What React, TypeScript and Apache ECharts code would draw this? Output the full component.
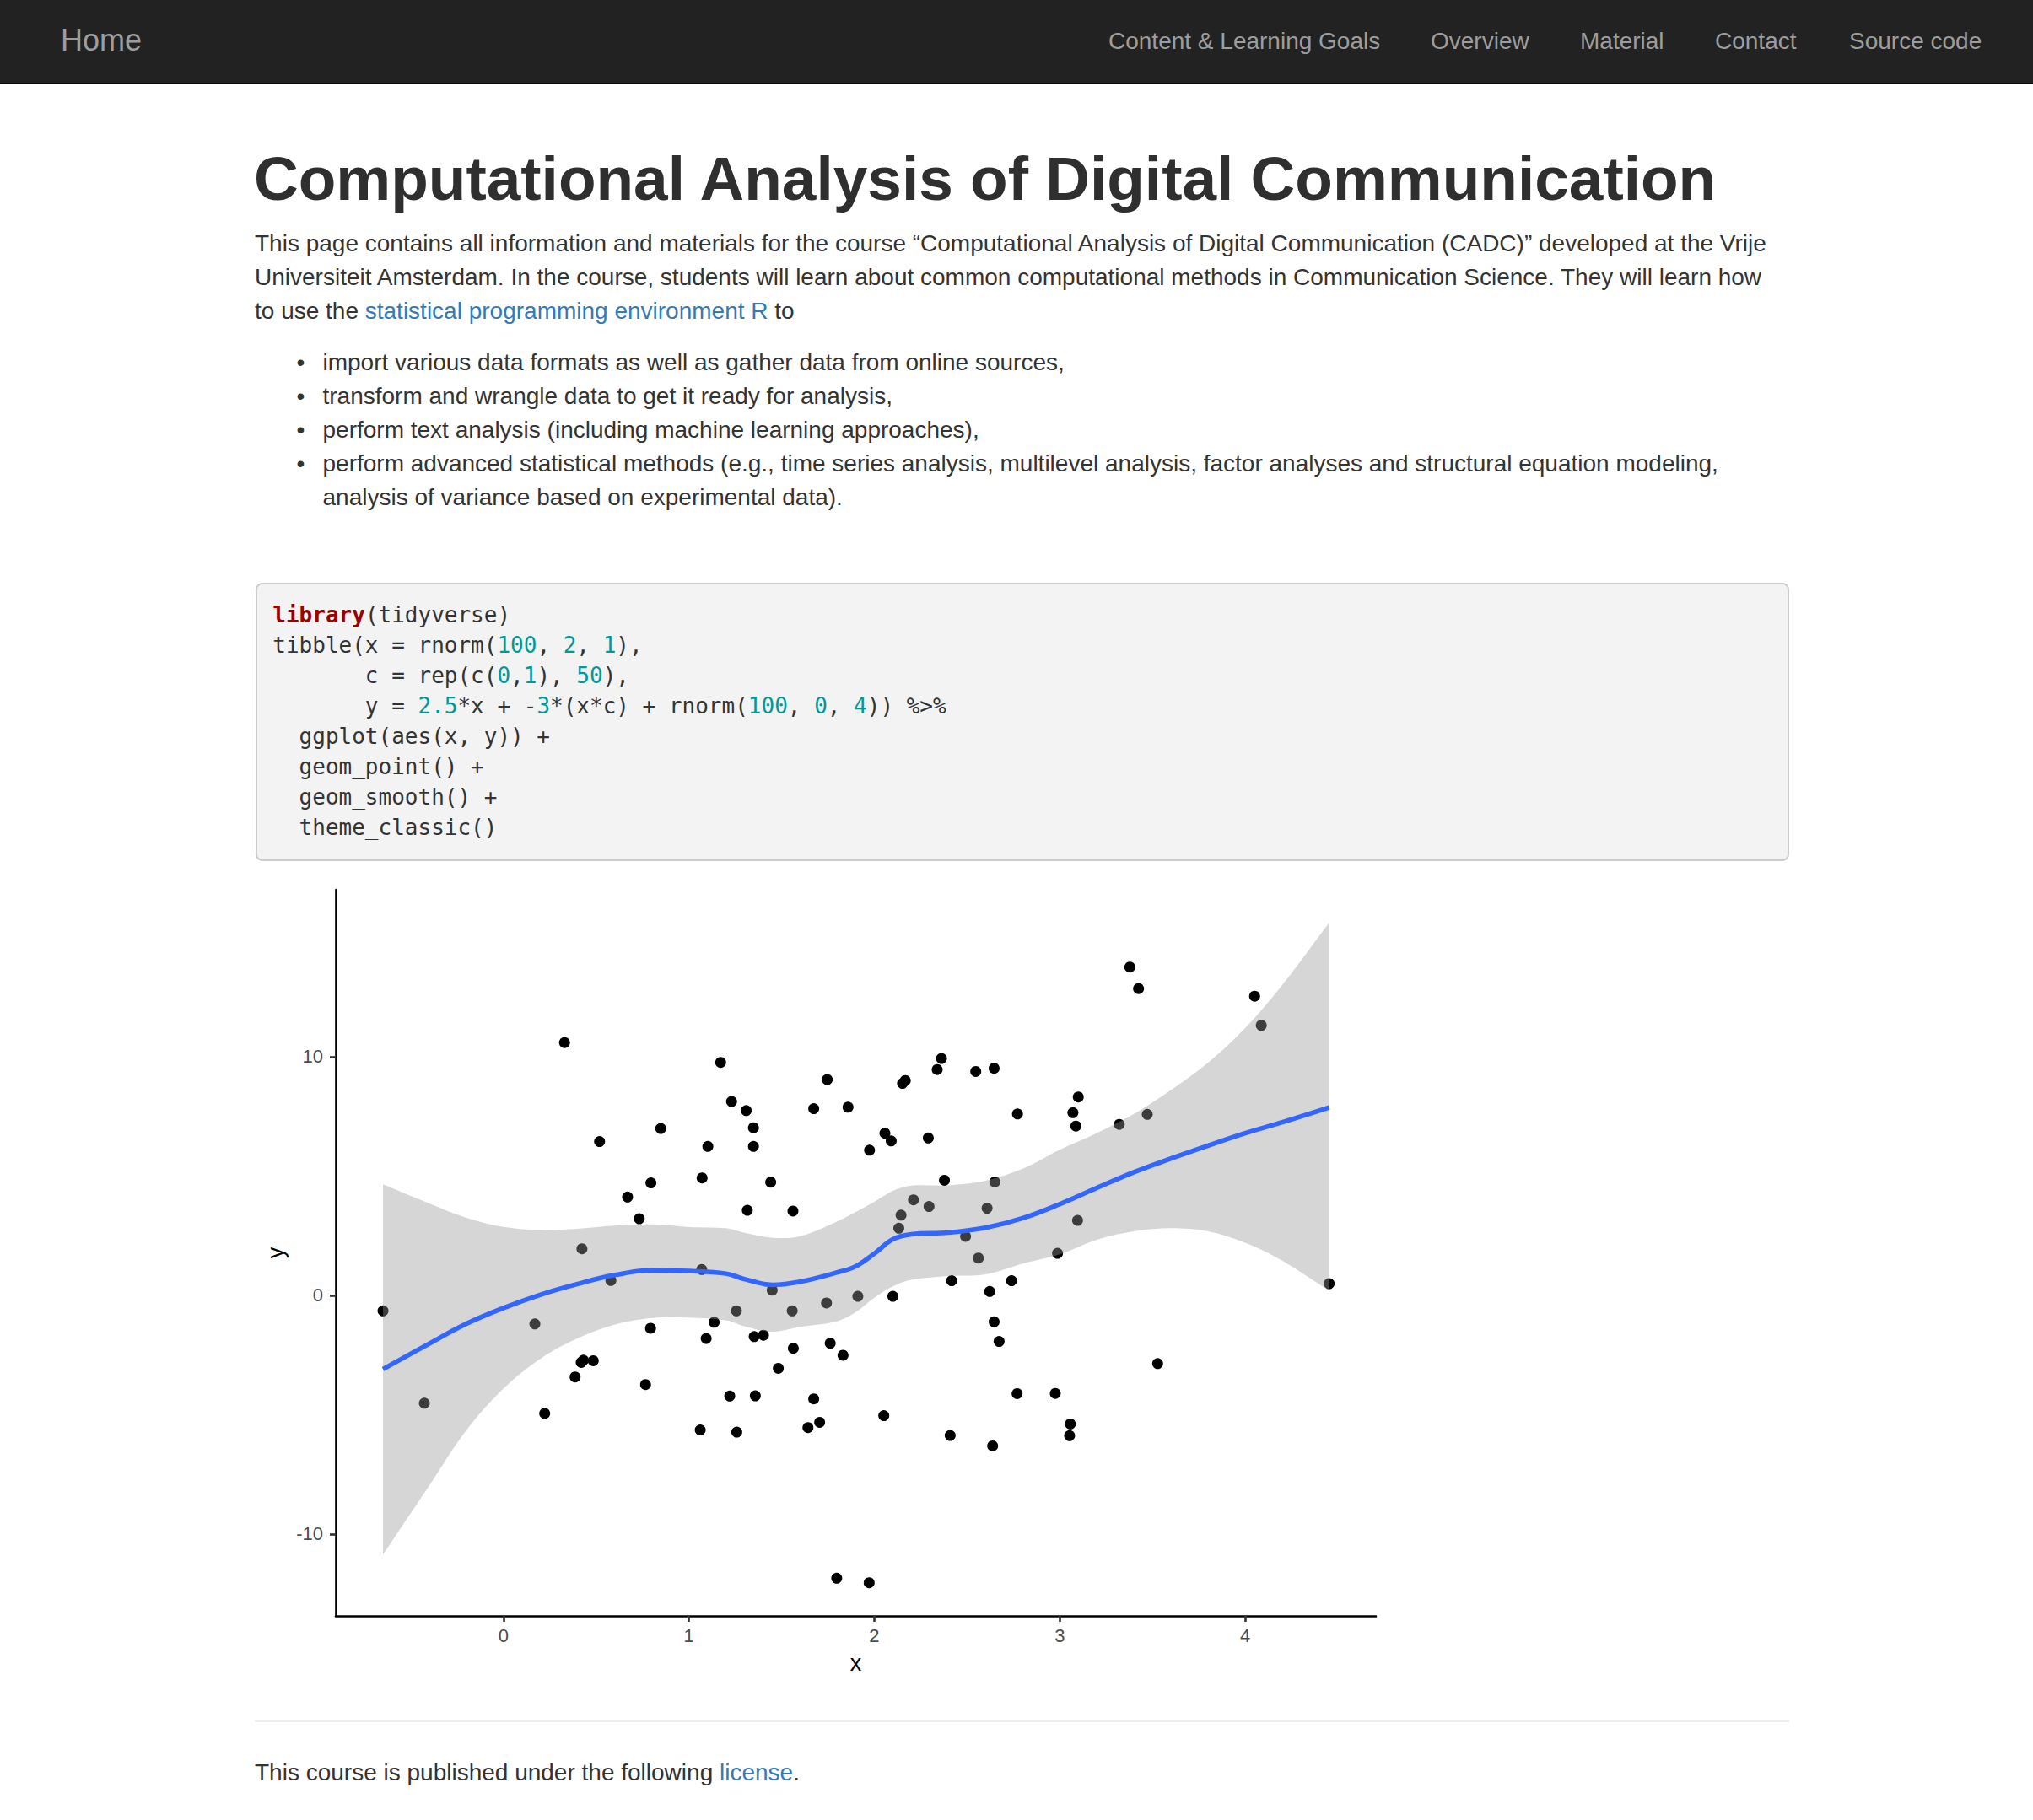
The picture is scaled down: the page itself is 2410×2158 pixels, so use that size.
import React, { useEffect, useRef } from "react";
import * as echarts from "echarts";

// ---------- chart data ----------
const pointX = [-0.650,-0.427,0.169,0.222,0.329,0.386,0.419,0.431,0.423,0.484,0.518,0.579,0.669,0.732,0.766,0.793,0.795,0.848,1.061,1.069,1.071,1.093,1.102,1.136,1.171,1.220,1.230,1.256,1.258,1.309,1.315,1.348,1.348,1.352,1.358,1.402,1.441,1.449,1.482,1.557,1.561,1.563,1.642,1.673,1.673,1.705,1.742,1.746,1.762,1.797,1.831,1.858,1.911,1.972,1.974,2.051,2.057,2.091,2.100,2.132,2.144,2.152,2.167,2.211,2.291,2.295,2.339,2.362,2.378,2.409,2.417,2.492,2.547,2.561,2.608,2.622,2.638,2.646,2.646,2.650,2.673,2.740,2.770,2.772,2.976,2.988,3.053,3.057,3.071,3.087,3.096,3.100,3.321,3.378,3.425,3.472,3.528,4.051,4.087,4.453];
const pointY = [-0.65,-4.52,-1.20,-4.95,10.59,-3.42,-2.81,-2.72,1.95,-2.74,6.44,0.62,4.12,3.21,-3.74,-1.38,4.71,6.99,-5.64,1.08,4.92,-1.81,6.24,-1.13,9.76,-4.22,8.12,-0.65,-5.73,7.74,3.56,7.02,6.24,-1.73,-4.21,-1.67,4.74,0.22,-3.06,-0.65,3.53,-2.22,-5.54,7.82,-4.34,-5.32,-0.32,9.04,-2.01,-11.85,-2.51,7.88,-0.04,-12.04,6.08,-5.04,6.79,6.47,-0.04,2.81,3.36,8.88,9.00,4.00,6.59,3.72,9.46,9.92,4.82,-5.87,0.61,2.47,9.38,1.56,3.65,0.16,-6.31,9.51,-1.11,4.75,-1.93,0.61,-4.12,7.60,-4.11,1.76,-5.88,-5.39,7.65,7.09,3.14,8.31,7.16,13.75,12.85,7.58,-2.86,12.53,11.31,0.49];

const smoothX = [-0.65,-0.4,-0.2,0,0.2,0.4,0.6,0.8,1.0,1.2,1.3,1.45,1.6,1.8,1.9,2.0,2.1,2.2,2.4,2.6,2.8,3.0,3.2,3.4,3.6,3.8,4.0,4.2,4.453];
const fitY = [-3.09,-2.02,-1.19,-0.53,0.03,0.48,0.85,1.05,1.02,0.91,0.68,0.44,0.57,0.96,1.22,1.75,2.35,2.56,2.63,2.83,3.23,3.82,4.5,5.16,5.73,6.27,6.79,7.25,7.87];
const ribbonHigh = [4.65,3.85,3.25,2.87,2.74,2.79,2.92,2.97,2.86,2.81,2.62,2.41,2.48,3.1,3.49,3.92,4.38,4.6,4.61,4.8,5.3,6.1,6.8,7.6,8.6,9.75,11.2,13.0,15.61];
const ribbonLow = [-10.86,-7.96,-5.65,-3.9,-2.65,-1.8,-1.22,-0.95,-0.93,-1.05,-1.3,-1.52,-1.32,-1.08,-0.7,-0.1,0.38,0.65,0.81,0.88,1.33,1.72,2.33,2.68,2.81,2.68,2.2,1.45,0.2];

const xTicks = [0, 1, 2, 3, 4];
const yTicks = [-10, 0, 10];
const xRange = [-0.905, 4.705];
const yRange = [-13.43, 16.99];

// ---------- page text ----------
const navItems = [
  { label: "Content & Learning Goals", left: 1314 },
  { label: "Overview", left: 1696 },
  { label: "Material", left: 1873 },
  { label: "Contact", left: 2033 },
  { label: "Source code", left: 2192 },
];
const bullets = [
  "import various data formats as well as gather data from online sources,",
  "transform and wrangle data to get it ready for analysis,",
  "perform text analysis (including machine learning approaches),",
  "perform advanced statistical methods (e.g., time series analysis, multilevel analysis, factor analyses and structural equation modeling,",
];
const bulletCont = "analysis of variance based on experimental data).";

type Tok = [string, string?];
const codeLines: Tok[][] = [
  [["library", "kw"], ["(tidyverse)"]],
  [["tibble(x = rnorm("], ["100", "num"], [", "], ["2", "num"], [", "], ["1", "num"], ["),"]],
  [["       c = rep(c("], ["0", "num"], [","], ["1", "num"], ["), "], ["50", "num"], ["),"]],
  [["       y = "], ["2.5", "num"], ["*x + -"], ["3", "num"], ["*(x*c) + rnorm("], ["100", "num"], [", "], ["0", "num"], [", "], ["4", "num"], [")) %>%"]],
  [["  ggplot(aes(x, y)) +"]],
  [["  geom_point() +"]],
  [["  geom_smooth() +"]],
  [["  theme_classic()"]],
];

const SANS = "'Liberation Sans', Arial, Helvetica, sans-serif";
const MONO = "'DejaVu Sans Mono', 'Liberation Mono', monospace";
const LINK = "#337ab7";

function Chart() {
  const ref = useRef<HTMLDivElement>(null);
  useEffect(() => {
    if (!ref.current) return;
    const chart = echarts.init(ref.current, null, { renderer: "svg" });
    const axisFont = { fontFamily: SANS, fontSize: 22, color: "#4D4D4D" };
    chart.setOption({
      animation: false,
      backgroundColor: "#ffffff",
      grid: { left: 98, top: 25, width: 1233, height: 861 },
      xAxis: {
        type: "value",
        min: xRange[0],
        max: xRange[1],
        name: "x",
        nameLocation: "middle",
        nameGap: 42,
        nameTextStyle: { fontFamily: SANS, fontSize: 27, color: "#000000" },
        axisLine: { show: true, onZero: false, lineStyle: { color: "#000000", width: 2.6 } },
        axisTick: { show: true, length: 7, customValues: xTicks, lineStyle: { color: "#333333", width: 2.6 } },
        axisLabel: { ...axisFont, margin: 12, customValues: xTicks, formatter: (v: number) => String(v) },
        splitLine: { show: false },
      },
      yAxis: {
        type: "value",
        min: yRange[0],
        max: yRange[1],
        name: "y",
        nameLocation: "middle",
        nameGap: 52,
        nameRotate: 90,
        nameTextStyle: { fontFamily: SANS, fontSize: 27, color: "#000000" },
        axisLine: { show: true, onZero: false, lineStyle: { color: "#000000", width: 2.6 } },
        axisTick: { show: true, length: 7, customValues: yTicks, lineStyle: { color: "#333333", width: 2.6 } },
        axisLabel: { ...axisFont, margin: 15, customValues: yTicks, formatter: (v: number) => String(v) },
        splitLine: { show: false },
      },
      series: [
        {
          type: "scatter",
          data: pointX.map((x, i) => [x, pointY[i]]),
          symbol: "circle",
          symbolSize: 13,
          itemStyle: { color: "#000000", opacity: 1 },
          z: 2,
        },
        {
          type: "custom",
          z: 3,
          data: smoothX.map((x, i) => [x, ribbonLow[i], ribbonHigh[i]]),
          encode: { x: 0, y: [1, 2] },
          renderItem: (params: any, api: any) => {
            if (params.dataIndex !== 0) return null;
            const up = smoothX.map((x, i) => api.coord([x, ribbonHigh[i]]));
            const lo = smoothX.map((x, i) => api.coord([x, ribbonLow[i]])).reverse();
            const n = up.length - 1;
            const pts = [up[0], ...up, up[n], lo[0], ...lo, lo[n]];
            return {
              type: "polygon",
              shape: { points: pts, smooth: 0.35 },
              style: { fill: "rgba(153,153,153,0.4)", stroke: "none" },
            };
          },
        },
        {
          type: "line",
          z: 4,
          data: smoothX.map((x, i) => [x, fitY[i]]),
          smooth: 0.4,
          showSymbol: false,
          symbol: "none",
          lineStyle: { color: "#3366FF", width: 5.5 },
        },
      ],
    });
    return () => chart.dispose();
  }, []);
  return (
    <div
      ref={ref}
      style={{ position: "absolute", left: 300, top: 1030, width: 1400, height: 990 }}
    />
  );
}

export default function App() {
  const body: React.CSSProperties = { fontFamily: SANS, fontSize: 28, lineHeight: "40px", color: "#333333", whiteSpace: "nowrap" };
  return (
    <div style={{ position: "absolute", left: 0, top: 0, width: 2410, height: 2158, background: "#ffffff", overflow: "hidden", fontFamily: SANS }}>
      {/* navbar */}
      <div style={{ position: "absolute", left: 0, top: 0, width: 2410, height: 98, background: "#222222", borderBottom: "2px solid #080808" }} />
      <div style={{ position: "absolute", left: 72, top: 27.5, fontSize: 36, lineHeight: "40px", color: "#9d9d9d", whiteSpace: "nowrap" }}>Home</div>
      {navItems.map((n) => (
        <div key={n.label} style={{ position: "absolute", left: n.left, top: 28.6, fontSize: 28, lineHeight: "40px", color: "#9d9d9d", whiteSpace: "nowrap" }}>
          {n.label}
        </div>
      ))}

      {/* title */}
      <div style={{ position: "absolute", left: 301, top: 172.4, fontSize: 73, fontWeight: "bold", lineHeight: "80px", color: "#2f2f2f", whiteSpace: "nowrap" }}>
        Computational Analysis of Digital Communication
      </div>

      {/* intro paragraph */}
      <div style={{ ...body, position: "absolute", left: 302, top: 269.3 }}>
        <div>This page contains all information and materials for the course “Computational Analysis of Digital Communication (CADC)” developed at the Vrije</div>
        <div>Universiteit Amsterdam. In the course, students will learn about common computational methods in Communication Science. They will learn how</div>
        <div>
          to use the <span style={{ color: LINK }}>statistical programming environment R</span> to
        </div>
      </div>

      {/* bullets */}
      <div style={{ ...body, position: "absolute", left: 0, top: 410.3 }}>
        {bullets.map((b) => (
          <div key={b} style={{ position: "relative", height: 40 }}>
            <span style={{ position: "absolute", left: 351.5, top: 0 }}>•</span>
            <span style={{ position: "absolute", left: 382.5, top: 0 }}>{b}</span>
          </div>
        ))}
        <div style={{ position: "relative", height: 40 }}>
          <span style={{ position: "absolute", left: 382.5, top: 0 }}>{bulletCont}</span>
        </div>
      </div>

      {/* code block */}
      <div
        style={{
          position: "absolute",
          left: 302.5,
          top: 690.5,
          width: 1818,
          height: 330,
          boxSizing: "border-box",
          background: "#f3f3f3",
          border: "2px solid #cccccc",
          borderRadius: 8,
        }}
      />
      <div style={{ position: "absolute", left: 323.3, top: 711.3, fontFamily: MONO, fontSize: 26, lineHeight: "36px", color: "#333333", whiteSpace: "pre" }}>
        {codeLines.map((line, i) => (
          <div key={i}>
            {line.map((t, j) => (
              <span
                key={j}
                style={
                  t[1] === "kw"
                    ? { color: "#990000", fontWeight: "bold" }
                    : t[1] === "num"
                    ? { color: "#009999" }
                    : {}
                }
              >
                {t[0]}
              </span>
            ))}
          </div>
        ))}
      </div>

      {/* chart */}
      <Chart />

      {/* footer */}
      <div style={{ position: "absolute", left: 302, top: 2040, width: 1819, height: 2, background: "#eeeeee" }} />
      <div style={{ ...body, position: "absolute", left: 302, top: 2082 }}>
        This course is published under the following <span style={{ color: LINK }}>license</span>.
      </div>
    </div>
  );
}
